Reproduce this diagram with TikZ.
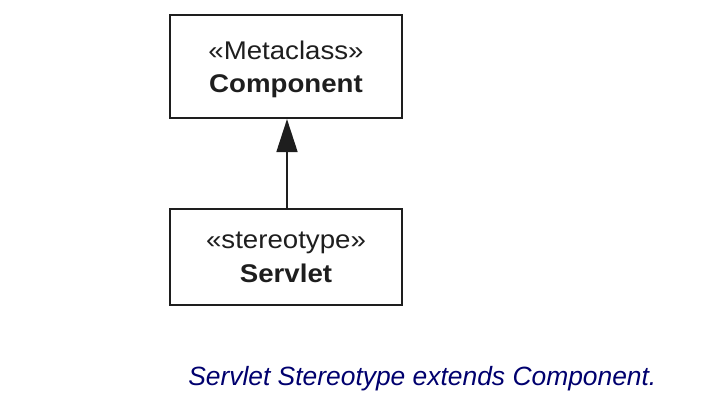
\documentclass[tikz,border=0pt]{standalone}
\usepackage{fontspec}
\setmainfont{Liberation Sans}
\usetikzlibrary{arrows.meta}
\definecolor{capblue}{RGB}{0,0,110}
\definecolor{ink}{RGB}{30,30,30}
\tikzset{
  umlbox/.style={draw=ink, line width=1.6pt, minimum width=232*0.75pt, inner sep=0pt},
  boxtext/.style={anchor=base, inner sep=0pt, text=ink, font=\fontsize{19.2pt}{21pt}\selectfont},
  extends/.style={draw=ink, line width=1.3pt, -{Triangle[length=33*0.75pt, width=21*0.75pt]}}
}
\begin{document}
\begin{tikzpicture}[x=0.75pt, y=-0.75pt]
\useasboundingbox (0,0) rectangle (704,414);
\node[umlbox, minimum height=103*0.75pt] (comp) at (286,66.5) {};
\node[umlbox, minimum height=96*0.75pt] (serv) at (286,257) {};
\node[boxtext] (t1) at (286,60) {\scalebox{1.08}[1]{«Metaclass»}};
\node[boxtext] (t2) at (286,92) {\scalebox{1.08}[1]{\bfseries Component}};
\node[boxtext] (t3) at (286,248) {\scalebox{1.08}[1]{«stereotype»}};
\node[boxtext] (t4) at (286,282) {\scalebox{1.08}[1]{\bfseries Servlet}};
\draw[extends] (serv.north -| 287,0) -- (comp.south -| 287,0);
\node[anchor=base west, inner sep=0pt, text=capblue, font=\fontsize{19.8pt}{22pt}\selectfont\itshape] (cap) at (188,385) {Servlet Stereotype extends Component.};
\end{tikzpicture}
\end{document}
